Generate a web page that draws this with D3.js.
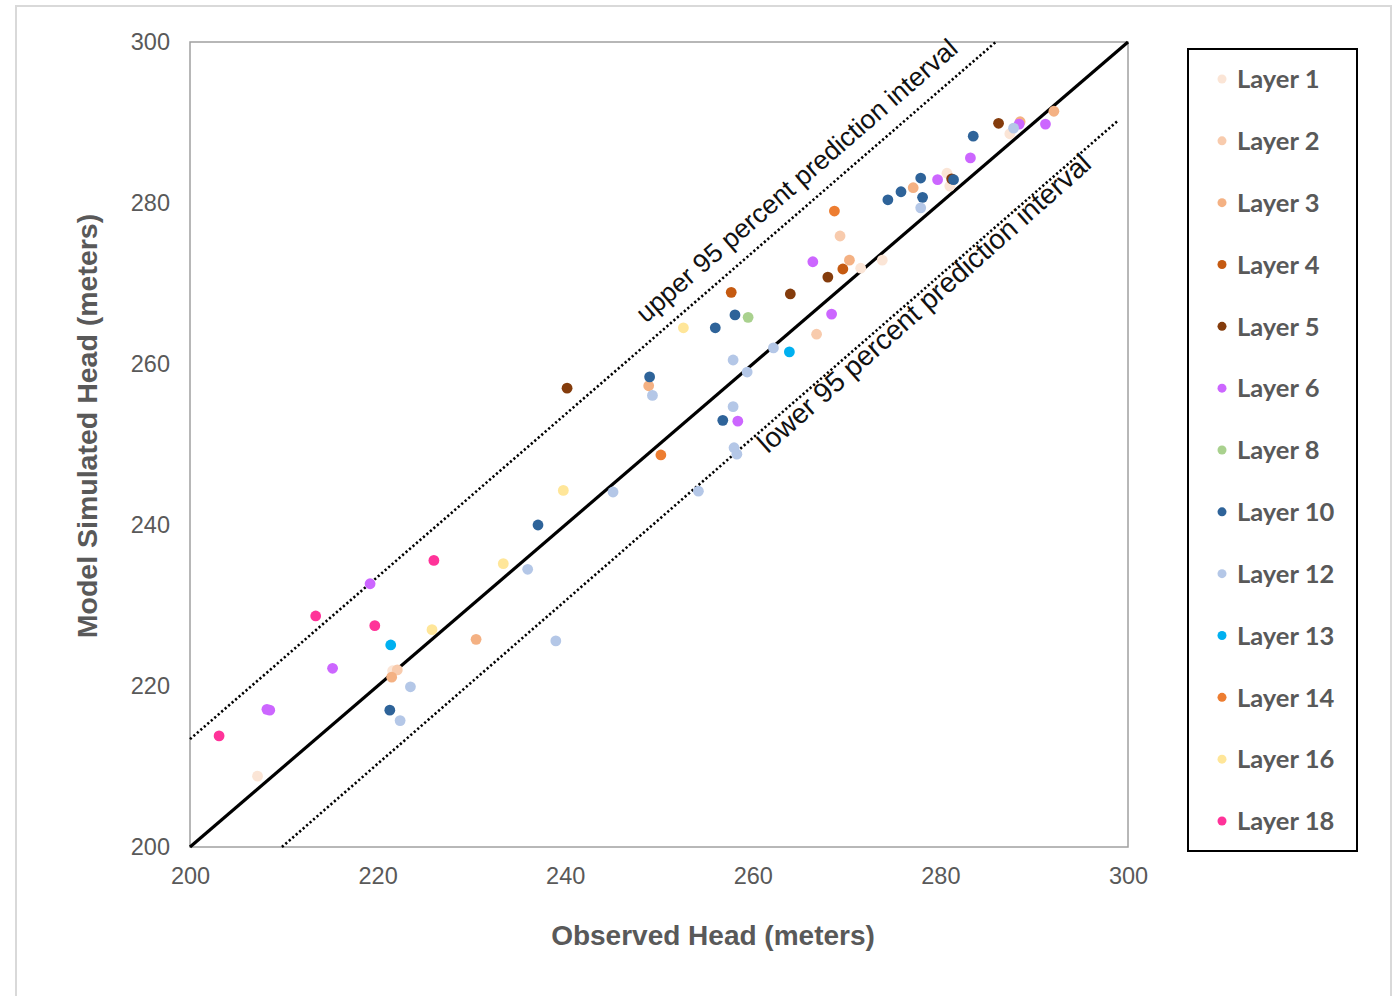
<!DOCTYPE html>
<html>
<head>
<meta charset="utf-8">
<script src="https://cdn.jsdelivr.net/npm/d3@7"></script>
<style>
  body { margin: 0; background: #fff; }
  svg { display: block; }
</style>
</head>
<body>
<div id="chart"></div>
<script>
// observed vs simulated head, [observed, simulated] per layer
const layer1  = [[207.2,208.8],[221.6,221.9],[271.5,271.9],[273.8,272.9],[280.7,283.7],[281.0,282.1],[287.4,288.6]];
const layer2  = [[222.1,222.0],[269.3,275.9],[266.8,263.7]];
const layer3  = [[221.5,221.1],[230.5,225.8],[248.9,257.3],[270.3,272.9],[277.1,281.9],[288.5,290.1],[292.1,291.4]];
const layer4  = [[257.7,268.9],[269.6,271.8]];
const layer5  = [[240.2,257.0],[264.0,268.7],[268.0,270.8],[281.2,283.0],[286.2,289.9]];
const layer6  = [[208.2,217.1],[208.5,217.0],[215.2,222.2],[219.2,232.7],[258.4,252.9],[266.4,272.7],[268.4,266.2],[279.7,282.9],[283.2,285.6],[288.4,289.8],[291.2,289.8]];
const layer8  = [[259.5,265.8]];
const layer10 = [[221.3,217.0],[237.1,240.0],[249.0,258.4],[256.0,264.5],[256.8,253.0],[258.1,266.1],[274.4,280.4],[275.8,281.4],[277.9,283.1],[278.1,280.7],[281.4,282.9],[283.5,288.3]];
const layer12 = [[222.4,215.7],[223.5,219.9],[236.0,234.5],[239.0,225.6],[245.1,244.1],[249.3,256.1],[254.2,244.2],[257.9,260.5],[257.9,254.7],[258.0,249.6],[258.3,248.8],[259.4,259.0],[262.2,262.0],[277.9,279.4],[287.8,289.3]];
const layer13 = [[221.4,225.1],[263.9,261.5]];
const layer14 = [[250.2,248.7],[268.7,279.0]];
const layer16 = [[225.8,227.0],[233.4,235.2],[239.8,244.3],[252.6,264.5]];
const layer18 = [[203.1,213.8],[213.4,228.7],[219.7,227.5],[226.0,235.6]];

const layerNames = ["Layer 1","Layer 2","Layer 3","Layer 4","Layer 5","Layer 6","Layer 8","Layer 10","Layer 12","Layer 13","Layer 14","Layer 16","Layer 18"];
const layerColors = ["#fbe5d6","#f8cbad","#f4b183","#c55a11","#843c0c","#cc66ff","#a9d18e","#2e6399","#b4c7e7","#00b0f0","#ed7d31","#ffe699","#ff3399"];
const layerData = [layer1,layer2,layer3,layer4,layer5,layer6,layer8,layer10,layer12,layer13,layer14,layer16,layer18];

const ticks = [200, 220, 240, 260, 280, 300];
const oneToOne = [[200,200],[300,300]];
const upperPI = [[200,213.4],[285.9,300]];
const lowerPI = [[209.8,200],[298.9,290.2]];

let w = 1398, h = 996;
let plotLeft = 190, plotRight = 1128, plotTop = 42, plotBottom = 847;

const svg = d3.select("#chart")
  .append("svg")
  .attr("width", w)
  .attr("height", h);

svg.append("rect")
  .attr("x", 16).attr("y", 6)
  .attr("width", 1375).attr("height", 1000)
  .attr("fill", "#fff")
  .attr("stroke", "#d9d9d9")
  .attr("stroke-width", 2);

let xScale = d3.scaleLinear().domain([200, 300]).range([plotLeft, plotRight]);
let yScale = d3.scaleLinear().domain([200, 300]).range([plotBottom, plotTop]);

const xAxis = d3.axisBottom(xScale).tickValues(ticks).tickSize(0).tickPadding(20);
const yAxis = d3.axisLeft(yScale).tickValues(ticks).tickSize(0).tickPadding(20);

svg.append("g")
  .attr("transform", "translate(0," + plotBottom + ")")
  .call(xAxis)
  .call(g => g.select(".domain").remove())
  .selectAll("text")
  .style("font-family", "'Liberation Sans', Arial, sans-serif")
  .style("font-size", "23.5px")
  .attr("fill", "#595959");

svg.append("g")
  .attr("transform", "translate(" + plotLeft + ",0)")
  .call(yAxis)
  .call(g => g.select(".domain").remove())
  .selectAll("text")
  .style("font-family", "'Liberation Sans', Arial, sans-serif")
  .style("font-size", "23.5px")
  .attr("fill", "#595959");

// plot frame
svg.append("rect")
  .attr("x", plotLeft).attr("y", plotTop)
  .attr("width", plotRight - plotLeft).attr("height", plotBottom - plotTop)
  .attr("fill", "none")
  .attr("stroke", "#a0a0a0")
  .attr("stroke-width", 1.5);

const line = d3.line().x(d => xScale(d[0])).y(d => yScale(d[1]));

svg.append("path").datum(oneToOne)
  .attr("d", line)
  .attr("stroke", "#000").attr("stroke-width", 3.2).attr("fill", "none");

[upperPI, lowerPI].forEach(pi => {
  svg.append("path").datum(pi)
    .attr("d", line)
    .attr("stroke", "#000").attr("stroke-width", 2.6)
    .attr("stroke-dasharray", "2.2,2.4")
    .attr("fill", "none");
});

// annotations
let angle = -41;
svg.append("text")
  .attr("transform", "translate(" + xScale(248.6) + "," + yScale(265.0) + ") rotate(" + angle + ")")
  .style("font-family", "'Liberation Sans', Arial, sans-serif")
  .style("font-size", "26.5px")
  .attr("fill", "#111")
  .text("upper 95 percent prediction interval");

svg.append("text")
  .attr("transform", "translate(" + xScale(261.6) + "," + yScale(248.8) + ") rotate(" + (angle - 0.5) + ")")
  .style("font-family", "'Liberation Sans', Arial, sans-serif")
  .style("font-size", "28px")
  .attr("fill", "#111")
  .text("lower 95 percent prediction interval");

// points
layerData.forEach((pts, i) => {
  svg.append("g")
    .selectAll("circle")
    .data(pts)
    .enter()
    .append("circle")
    .attr("cx", d => xScale(d[0]))
    .attr("cy", d => yScale(d[1]))
    .attr("r", 5.4)
    .attr("fill", layerColors[i]);
});

// axis titles
svg.append("text")
  .attr("x", 713)
  .attr("y", 945)
  .attr("text-anchor", "middle")
  .style("font-family", "'Liberation Sans', Arial, sans-serif")
  .style("font-size", "28px")
  .style("font-weight", "bold")
  .attr("fill", "#595959")
  .text("Observed Head (meters)");

svg.append("text")
  .attr("transform", "translate(97,426) rotate(-90)")
  .attr("text-anchor", "middle")
  .style("font-family", "'Liberation Sans', Arial, sans-serif")
  .style("font-size", "28.5px")
  .style("font-weight", "bold")
  .attr("fill", "#595959")
  .text("Model Simulated Head (meters)");

// legend
const legend = svg.append("g").attr("id", "legend");
legend.append("rect")
  .attr("x", 1188).attr("y", 49)
  .attr("width", 169).attr("height", 802)
  .attr("fill", "#fff")
  .attr("stroke", "#000")
  .attr("stroke-width", 2);

let legendY = d3.scalePoint().domain(layerNames).range([79, 821]);

layerNames.forEach((name, i) => {
  legend.append("circle")
    .attr("cx", 1222)
    .attr("cy", legendY(name))
    .attr("r", 4.5)
    .attr("fill", layerColors[i]);
  legend.append("text")
    .attr("x", 1237)
    .attr("y", legendY(name))
    .attr("dy", "0.36em")
    .style("font-family", "Lato, 'Open Sans', sans-serif")
    .style("font-size", "25.5px")
    .style("font-weight", "bold")
    .attr("fill", "#595959")
    .text(name);
});
</script>
</body>
</html>
